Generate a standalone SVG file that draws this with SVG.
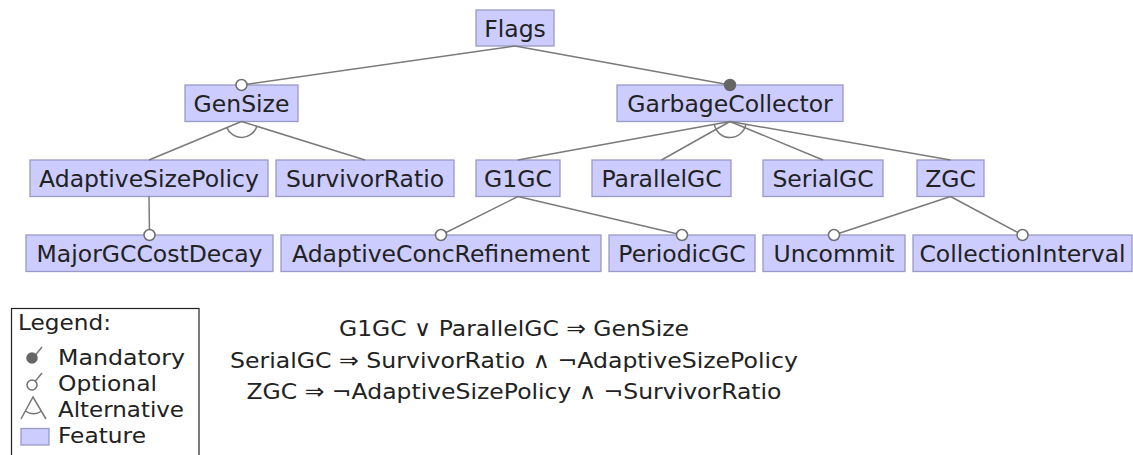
<svg xmlns="http://www.w3.org/2000/svg" width="1133" height="455" viewBox="0 0 1133 455">
<style>
.f rect{fill:#ccccff;stroke:#9a9ac8;stroke-width:1.3}
text{font-family:"DejaVu Sans",sans-serif;fill:#222}
.f text{font-size:23.5px;text-anchor:middle}
.c line,.c path{stroke:#7a7a7a;stroke-width:1.5;fill:none}
.opt{fill:#fff;stroke:#6e6e6e;stroke-width:1.5}
.man{fill:#666;stroke:#666;stroke-width:1.5}
.cons{font-size:22px;text-anchor:middle}
.leg{font-size:22px}
</style>
<rect width="1133" height="455" fill="#fff"/>
<g class="f" id="Flags"><rect x="476" y="10" width="78" height="36"/><text x="515" y="36.5">Flags</text></g>
<g class="f" id="GenSize"><rect x="185" y="85" width="113" height="36.5"/><text x="241.5" y="111.5">GenSize</text></g>
<g class="f" id="GarbageCollector"><rect x="617" y="85" width="226" height="36.5"/><text x="730" y="111.5">GarbageCollector</text></g>
<g class="f" id="AdaptiveSizePolicy"><rect x="30" y="160" width="238" height="36.5"/><text x="149" y="186.5">AdaptiveSizePolicy</text></g>
<g class="f" id="SurvivorRatio"><rect x="276" y="160" width="178" height="36.5"/><text x="365" y="186.5">SurvivorRatio</text></g>
<g class="f" id="G1GC"><rect x="476" y="160" width="84" height="36.5"/><text x="518" y="186.5">G1GC</text></g>
<g class="f" id="ParallelGC"><rect x="592" y="160" width="139" height="36.5"/><text x="661.5" y="186.5">ParallelGC</text></g>
<g class="f" id="SerialGC"><rect x="763" y="160" width="120" height="36.5"/><text x="823" y="186.5">SerialGC</text></g>
<g class="f" id="ZGC"><rect x="917" y="160" width="67" height="36.5"/><text x="950.5" y="186.5">ZGC</text></g>
<g class="f" id="MajorGCCostDecay"><rect x="26" y="235" width="247" height="36.5"/><text x="149.5" y="261.5">MajorGCCostDecay</text></g>
<g class="f" id="AdaptiveConcRefinement"><rect x="281" y="235" width="320" height="36.5"/><text x="441" y="261.5">AdaptiveConcRefinement</text></g>
<g class="f" id="PeriodicGC"><rect x="609" y="235" width="146" height="36.5"/><text x="682" y="261.5">PeriodicGC</text></g>
<g class="f" id="Uncommit"><rect x="763" y="235" width="142" height="36.5"/><text x="834" y="261.5">Uncommit</text></g>
<g class="f" id="CollectionInterval"><rect x="913" y="235" width="219" height="36.5"/><text x="1022.5" y="261.5">CollectionInterval</text></g>
<g class="c" id="connectors">
<line x1="515" y1="46" x2="241.5" y2="85"/>
<line x1="515" y1="46" x2="730" y2="85"/>
<line x1="241.5" y1="121.5" x2="149" y2="160"/>
<line x1="241.5" y1="121.5" x2="365" y2="160"/>
<path d="M226.8,127.6 A16,16 0 0 0 256.8,126.4"/>
<line x1="730" y1="121.5" x2="518" y2="160"/>
<line x1="730" y1="121.5" x2="661.5" y2="160"/>
<line x1="730" y1="121.5" x2="823" y2="160"/>
<line x1="730" y1="121.5" x2="950.5" y2="160"/>
<path d="M714.3,124.4 A16,16 0 0 0 745.8,124.3"/>
<line x1="149" y1="196.5" x2="149.5" y2="235"/>
<line x1="518" y1="196.5" x2="441" y2="235"/>
<line x1="518" y1="196.5" x2="682" y2="235"/>
<line x1="950.5" y1="196.5" x2="834" y2="235"/>
<line x1="950.5" y1="196.5" x2="1022.5" y2="235"/>
<circle class="opt" cx="241.5" cy="85" r="5.5"/>
<circle class="man" cx="730" cy="85" r="5.5"/>
<circle class="opt" cx="149.5" cy="235" r="5.5"/>
<circle class="opt" cx="441" cy="235" r="5.5"/>
<circle class="opt" cx="682" cy="235" r="5.5"/>
<circle class="opt" cx="834" cy="235" r="5.5"/>
<circle class="opt" cx="1022.5" cy="235" r="5.5"/>
</g>
<g id="constraints">
<text class="cons" x="514" y="335.5" textLength="350" lengthAdjust="spacingAndGlyphs">G1GC ∨ ParallelGC ⇒ GenSize</text>
<text class="cons" x="514" y="368" textLength="568" lengthAdjust="spacingAndGlyphs">SerialGC ⇒ SurvivorRatio ∧ ¬AdaptiveSizePolicy</text>
<text class="cons" x="514" y="399" textLength="535" lengthAdjust="spacingAndGlyphs">ZGC ⇒ ¬AdaptiveSizePolicy ∧ ¬SurvivorRatio</text>
</g>
<g id="legend">
<rect x="11.5" y="308.5" width="187.5" height="160" fill="none" stroke="#222" stroke-width="1.2"/>
<text class="leg" x="18" y="330" textLength="93" lengthAdjust="spacingAndGlyphs">Legend:</text>
<line x1="33" y1="358" x2="42" y2="347" stroke="#777" stroke-width="1.5"/>
<circle class="man" cx="32" cy="358" r="5"/>
<text class="leg" x="58" y="365" textLength="127" lengthAdjust="spacingAndGlyphs">Mandatory</text>
<line x1="33" y1="384" x2="42" y2="373" stroke="#777" stroke-width="1.5"/>
<circle class="opt" cx="32" cy="385" r="5"/>
<text class="leg" x="58" y="391" textLength="99" lengthAdjust="spacingAndGlyphs">Optional</text>
<path d="M21,419 L33,397 L46,419 M25.5,411 A13,13 0 0 0 41.5,411" stroke="#777" stroke-width="1.5" fill="none"/>
<text class="leg" x="58" y="417" textLength="126" lengthAdjust="spacingAndGlyphs">Alternative</text>
<rect x="21" y="428.5" width="28" height="16.5" fill="#ccccff" stroke="#9a9ac8" stroke-width="1.3"/>
<text class="leg" x="58" y="443" textLength="88" lengthAdjust="spacingAndGlyphs">Feature</text>
</g>
</svg>
